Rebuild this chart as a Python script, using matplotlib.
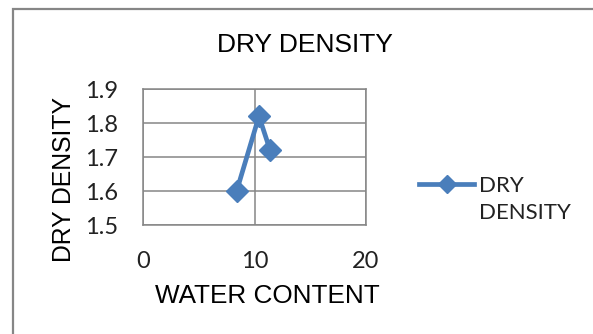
import matplotlib
matplotlib.use("Agg")
import matplotlib.pyplot as plt
from matplotlib.lines import Line2D
from matplotlib.patches import Rectangle

# Datos de la curva de compactación
contenido_agua = [8.4, 10.4, 11.4]
densidad_seca = [1.60, 1.82, 1.72]
ticks_x = [0, 10, 20]
ticks_y = [1.5, 1.6, 1.7, 1.8, 1.9]

azul = "#4A7EBB"
gris = "#868686"
W, H = 593, 334

fig = plt.figure(figsize=(W / 100, H / 100), dpi=100)
fig.patch.set_facecolor("white")

# Marco exterior del gráfico
fig.add_artist(Rectangle((13 / W, -0.1), 1.2, 1 - 9 / H + 0.1, transform=fig.transFigure,
                         fill=False, edgecolor=gris, linewidth=1.6))

ax = fig.add_axes([143 / W, 1 - 225 / H, (366 - 143) / W, (225 - 89) / H])
ax.plot(contenido_agua, densidad_seca, color=azul, linewidth=3.4, marker="D",
        markersize=11.5, markeredgecolor=azul, markerfacecolor=azul, zorder=3)

ax.set_xlim(0, 20)
ax.set_ylim(1.5, 1.9)
ax.set_xticks(ticks_x)
ax.set_yticks(ticks_y)
ax.set_xticklabels([str(t) for t in ticks_x], fontfamily="Lato", fontsize=17)
ax.set_yticklabels([f"{t:.1f}" for t in ticks_y], fontfamily="Lato", fontsize=17)
ax.tick_params(axis="both", length=0, colors="#222222")
ax.tick_params(axis="x", pad=19)
ax.tick_params(axis="y", pad=18)
ax.grid(True, color=gris, linewidth=1.1)
ax.set_axisbelow(True)
for s in ax.spines.values():
    s.set_color(gris)
    s.set_linewidth(1.1)

# Títulos
fig.text(305 / W, 1 - 52 / H, "DRY DENSITY", ha="center", va="baseline",
         fontfamily="Liberation Sans", fontsize=19, color="black")
fig.text(267 / W, 1 - 303 / H, "WATER CONTENT", ha="center", va="baseline",
         fontfamily="Liberation Sans", fontsize=18.8, color="black")
fig.text(64 / W, 1 - 180 / H, "DRY DENSITY", ha="center", va="center", rotation=90,
         fontfamily="Liberation Sans", fontsize=17.8, color="black")

# Leyenda
y_ley = 1 - 184 / H
fig.add_artist(Line2D([419 / W, 447 / W, 474 / W], [y_ley, y_ley, y_ley],
                      transform=fig.transFigure, color=azul, linewidth=3.4,
                      marker="D", markersize=9, markevery=[1]))
fig.text(479 / W, 1 - 176 / H, "DRY\nDENSITY", ha="left", va="top",
         fontfamily="Lato", fontsize=16, linespacing=1.45, color="#222222")

fig.savefig("out.png", dpi=100)
